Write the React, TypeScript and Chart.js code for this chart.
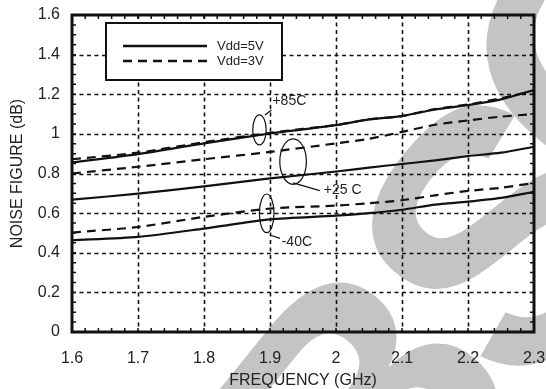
import { useEffect, useRef } from 'react';
import { Chart, registerables } from 'chart.js';

Chart.register(...registerables);

// ---- data ----
const freq = [1.6, 1.7, 1.8, 1.9, 2.0, 2.05, 2.1, 2.15, 2.2, 2.25, 2.3];
const nf85_5V = [0.856, 0.898, 0.952, 1.002, 1.044, 1.073, 1.09, 1.123, 1.145, 1.174, 1.221];
const nf85_3V = [0.872, 0.905, 0.958, 1.005, 1.045, 1.073, 1.09, 1.125, 1.148, 1.18, 1.218];
const nf25_3V = [0.8, 0.834, 0.872, 0.909, 0.952, 0.975, 1.01, 1.046, 1.068, 1.087, 1.1];
const nf25_5V = [0.668, 0.698, 0.735, 0.775, 0.81, 0.83, 0.848, 0.866, 0.888, 0.905, 0.935];
const nf40_3V = [0.502, 0.53, 0.581, 0.623, 0.638, 0.65, 0.665, 0.69, 0.712, 0.728, 0.752];
const nf40_5V = [0.463, 0.48, 0.522, 0.568, 0.587, 0.6, 0.617, 0.643, 0.658, 0.677, 0.707];

const xTickLabels = ['1.6', '1.7', '1.8', '1.9', '2', '2.1', '2.2', '2.3'];
const yTickLabels = ['0', '0.2', '0.4', '0.6', '0.8', '1', '1.2', '1.4', '1.6'];
const legendLabels = ['Vdd=5V', 'Vdd=3V'];
const tempLabels = ['+85C', '+25 C', '-40C'];
// ellipse centres in data units (frequency, NF)
const tempCenterF = [1.884, 1.935, 1.895];
const tempCenterNF = [1.02, 0.86, 0.599];

// watermark letters
const markLetters = ['B', 'S', 'C'];

const FONT = '"Liberation Sans", Arial, Helvetica, sans-serif';
const DASH = [9, 6];

const toPts = (ys: number[]) => ys.map((v, i) => ({ x: freq[i], y: v }));

const paperPlugin = {
  id: 'paper',
  beforeDraw(chart: any) {
    const { ctx, width, height } = chart;
    ctx.save();
    ctx.fillStyle = '#ffffff';
    ctx.fillRect(0, 0, width, height);
    // watermark (each glyph placed on its own)
    const anchors = [
      [375, 591],
      [524, 405],
      [628, 231],
    ];
    ctx.fillStyle = '#c4c4c4';
    ctx.font = `bold 360px ${FONT}`;
    ctx.textBaseline = 'alphabetic';
    ctx.textAlign = 'left';
    markLetters.forEach((ch, i) => {
      ctx.save();
      ctx.translate(anchors[i][0], anchors[i][1]);
      ctx.rotate((-51 * Math.PI) / 180);
      ctx.fillText(ch, 0, 0);
      ctx.restore();
    });
    ctx.restore();
  },
  beforeDatasetsDraw(chart: any) {
    const { ctx, chartArea: a, scales } = chart;
    const xs = scales.x;
    const ys = scales.y;
    ctx.save();
    ctx.strokeStyle = '#111';
    ctx.lineWidth = 1.6;
    ctx.setLineDash([4, 3.5]);
    xs.ticks.forEach((t: any, i: number) => {
      if (i === 0 || i === xs.ticks.length - 1) return;
      const px = Math.round(xs.getPixelForValue(t.value)) + 0.5;
      ctx.beginPath();
      ctx.moveTo(px, a.top);
      ctx.lineTo(px, a.bottom);
      ctx.stroke();
    });
    ys.ticks.forEach((t: any, i: number) => {
      if (i === 0 || i === ys.ticks.length - 1) return;
      const py = Math.round(ys.getPixelForValue(t.value)) + 0.5;
      ctx.beginPath();
      ctx.moveTo(a.left, py);
      ctx.lineTo(a.right, py);
      ctx.stroke();
    });
    ctx.restore();
  },
  afterDatasetsDraw(chart: any) {
    const { ctx, chartArea: a, scales } = chart;
    const xs = scales.x;
    const ys = scales.y;
    ctx.save();
    // minor ticks
    ctx.strokeStyle = '#111';
    ctx.lineWidth = 1.5;
    ctx.setLineDash([]);
    const tl = 4;
    for (let k = 1; k < 35; k++) {
      const px = xs.getPixelForValue(1.6 + k * 0.02);
      ctx.beginPath();
      ctx.moveTo(px, a.bottom);
      ctx.lineTo(px, a.bottom - tl);
      ctx.moveTo(px, a.top);
      ctx.lineTo(px, a.top + tl);
      ctx.stroke();
    }
    for (let k = 1; k < 32; k++) {
      const py = ys.getPixelForValue(k * 0.05);
      ctx.beginPath();
      ctx.moveTo(a.left, py);
      ctx.lineTo(a.left + tl, py);
      ctx.moveTo(a.right, py);
      ctx.lineTo(a.right - tl, py);
      ctx.stroke();
    }
    // frame
    ctx.lineWidth = 3;
    ctx.strokeStyle = '#111';
    ctx.strokeRect(a.left, a.top, a.right - a.left, a.bottom - a.top);

    // legend box
    const bx = a.left + 34;
    const by = a.top + 8;
    const bw = 176;
    const bh = 57;
    ctx.fillStyle = '#fff';
    ctx.fillRect(bx, by, bw, bh);
    ctx.lineWidth = 2;
    ctx.strokeRect(bx, by, bw, bh);
    ctx.lineWidth = 2.4;
    ctx.beginPath();
    ctx.moveTo(bx + 17, by + 23);
    ctx.lineTo(bx + 101, by + 23);
    ctx.stroke();
    ctx.setLineDash(DASH);
    ctx.beginPath();
    ctx.moveTo(bx + 17, by + 38);
    ctx.lineTo(bx + 101, by + 38);
    ctx.stroke();
    ctx.setLineDash([]);
    ctx.fillStyle = '#222';
    ctx.font = `13px ${FONT}`;
    ctx.textBaseline = 'middle';
    ctx.textAlign = 'left';
    ctx.fillText(legendLabels[0], bx + 111, by + 23);
    ctx.fillText(legendLabels[1], bx + 111, by + 38);

    // temperature annotations
    const ell = [
      { rx: 6.7, ry: 15, l0: [5.5, -15], l1: [12, -20], t: [13, -28.5] },
      { rx: 13.3, ry: 22.7, l0: [0, 21.3], l1: [26.7, 29], t: [30.7, 28.3] },
      { rx: 7.3, ry: 19.3, l0: [3.3, 21.7], l1: [13.3, 25], t: [15, 28.4] },
    ];
    ctx.font = `14px ${FONT}`;
    ctx.lineWidth = 1.2;
    ell.forEach((e, i) => {
      const cx = xs.getPixelForValue(tempCenterF[i]);
      const cy = ys.getPixelForValue(tempCenterNF[i]);
      ctx.beginPath();
      ctx.ellipse(cx, cy, e.rx, e.ry, 0, 0, Math.PI * 2);
      ctx.stroke();
      ctx.beginPath();
      ctx.moveTo(cx + e.l0[0], cy + e.l0[1]);
      ctx.lineTo(cx + e.l1[0], cy + e.l1[1]);
      ctx.stroke();
      ctx.fillText(tempLabels[i], cx + e.t[0], cy + e.t[1]);
    });
    ctx.restore();
  },
};

export default function App() {
  const ref = useRef<HTMLCanvasElement | null>(null);
  useEffect(() => {
    document.body.style.margin = '0';
    const line = (data: number[], dashed: boolean) => ({
      data: toPts(data),
      borderColor: '#111',
      borderWidth: 2.2,
      borderDash: dashed ? DASH : [],
      pointRadius: 0,
      tension: 0.25,
      fill: false,
    });
    const chart = new Chart(ref.current as HTMLCanvasElement, {
      type: 'line',
      data: {
        datasets: [
          line(nf85_5V, false),
          line(nf85_3V, true),
          line(nf25_3V, true),
          line(nf25_5V, false),
          line(nf40_3V, true),
          line(nf40_5V, false),
        ],
      },
      options: {
        animation: false,
        responsive: false,
        devicePixelRatio: 1,
        layout: { padding: { left: 0, right: 12, top: 15, bottom: 0 } },
        plugins: { legend: { display: false }, tooltip: { enabled: false } },
        scales: {
          x: {
            type: 'linear',
            min: 1.6,
            max: 2.3,
            grid: { display: false, drawTicks: false },
            border: { display: false },
            ticks: {
              stepSize: 0.1,
              padding: 17,
              color: '#222',
              font: { family: FONT, size: 16 },
              maxRotation: 0,
              autoSkip: false,
              callback: (_v: any, i: number) => xTickLabels[i],
            },
            title: {
              display: true,
              text: 'FREQUENCY (GHz)',
              color: '#222',
              font: { family: FONT, size: 16, lineHeight: 1 },
              padding: { top: 0, bottom: 0 },
            },
            afterFit: (s: any) => {
              s.height = 57;
              s.paddingLeft = 0;
              s.paddingRight = 0;
              s.paddingTop = 0;
              s.paddingBottom = 0;
            },
          },
          y: {
            min: 0,
            max: 1.6,
            grid: { display: false, drawTicks: false },
            border: { display: false },
            ticks: {
              stepSize: 0.2,
              padding: 12,
              color: '#222',
              font: { family: FONT, size: 16 },
              autoSkip: false,
              callback: (_v: any, i: number) => yTickLabels[i],
            },
            title: {
              display: true,
              text: 'NOISE FIGURE (dB)',
              color: '#222',
              font: { family: FONT, size: 16, lineHeight: 1 },
              padding: { top: 10, bottom: 0 },
            },
            afterFit: (s: any) => {
              s.width = 72;
              s.paddingLeft = 0;
              s.paddingRight = 0;
              s.paddingTop = 0;
              s.paddingBottom = 0;
            },
          },
        },
      },
      plugins: [paperPlugin],
    } as any);
    return () => chart.destroy();
  }, []);
  return (
    <div style={{ position: 'absolute', left: 0, top: 0, width: 546, height: 389 }}>
      <canvas ref={ref} width={546} height={389} />
    </div>
  );
}
